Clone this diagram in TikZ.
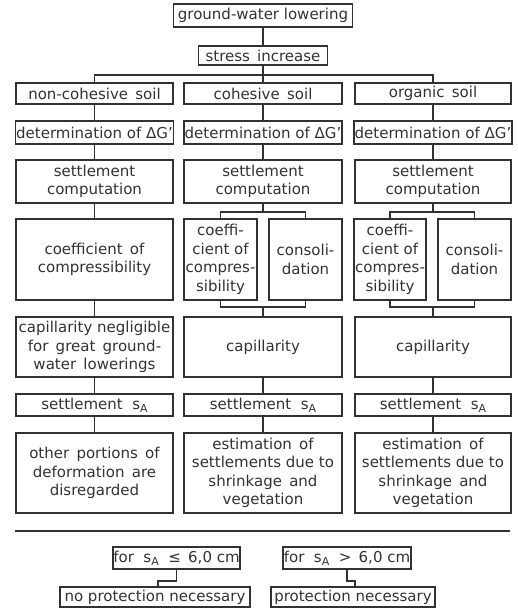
\documentclass[tikz,border=0pt]{standalone}
\usepackage{fontspec}
\setmainfont{DejaVu Sans}
\definecolor{ink}{RGB}{50,50,50}
\newcommand{\sA}{s\raisebox{-3pt}{\fontsize{11}{11}\selectfont A}}
\newcommand{\dG}{ΔG'}
\begin{document}
\begin{tikzpicture}[x=1pt,y=-1pt,
  box/.style={draw=ink, line width=1.4pt, inner sep=0.5pt, align=center,
    font=\fontsize{15}{18.5}\selectfont, text=ink},
  wh/.style 2 args={minimum width=#1pt, minimum height=#2pt},
  conn/.style={draw=ink, line width=1.4pt}]
\useasboundingbox (0,0) rectangle (517,610);
% top
\node[box, wh={179}{23}] (gw) at (263,15.5) {ground-water lowering};
\node[box, wh={129}{19}] (si) at (263,55.5) {stress \,increase};
% soil row
\node[box, wh={157}{21}] (s1) at (94.5,93.5) {non-cohesive \,soil};
\node[box, wh={158}{21}] (s2) at (263,93.5) {cohesive \,soil};
\node[box, wh={156}{21}] (s3) at (433,93.5) {organic \,soil};
% determination row
\node[box, wh={157}{23}] (d1) at (94.5,132.5) {determination of \dG};
\node[box, wh={158}{23}] (d2) at (263,132.5) {determination of \dG};
\node[box, wh={156}{23}] (d3) at (433,132.5) {determination of \dG};
% settlement computation
\node[box, wh={157}{43}] (sc1) at (94.5,181.5) {settlement\\computation};
\node[box, wh={158}{43}] (sc2) at (263,181.5) {settlement\\computation};
\node[box, wh={156}{43}] (sc3) at (433,181.5) {settlement\\computation};
% coefficient row
\node[box, wh={157}{81}] (cc1) at (94.5,259.5) {coefficient \,of\\compressibility};
\node[box, wh={73}{81}] (c2a) at (220.5,259.5) {coeffi-\\cient of\\compres-\\sibility};
\node[box, wh={73}{81}] (c2b) at (305.5,259.5) {consoli-\\dation};
\node[box, wh={72}{81}] (c3a) at (390,259.5) {coeffi-\\cient of\\compres-\\sibility};
\node[box, wh={73}{81}] (c3b) at (474.5,259.5) {consoli-\\dation};
% capillarity row
\node[box, wh={157}{60}] (cp1) at (94.5,347) {capillarity negligible\\for \,great \,ground-\\water \,lowerings};
\node[box, wh={158}{60}] (cp2) at (263,347) {capillarity};
\node[box, wh={156}{60}] (cp3) at (433,347) {capillarity};
% settlement sA row
\node[box, wh={157}{22}] (sa1) at (94.5,405) {settlement \ \sA};
\node[box, wh={158}{22}] (sa2) at (263,405) {settlement \ \sA};
\node[box, wh={156}{22}] (sa3) at (433,405) {settlement \ \sA};
% estimation row
\node[box, wh={157}{80}] (e1) at (94.5,473) {other \,portions \,of\\deformation \,are\\disregarded};
\node[box, wh={158}{80}] (e2) at (263,473) {estimation \,of\\settlements due to\\shrinkage \,and\\vegetation};
\node[box, wh={156}{80}] (e3) at (433,473) {estimation \,of\\settlements due to\\shrinkage \,and\\vegetation};
% separator
\draw[conn] (15,531) -- (510,531);
% bottom
\node[box, wh={125}{22}] (f1) at (176.5,558) {for \ \sA\ \ ≤ \,6,0 cm};
\node[box, wh={128}{22}] (f2) at (347,558) {for \ \sA\ \ > \,6,0 cm};
\node[box, wh={190}{20}] (p1) at (155,597) {no protection necessary};
\node[box, wh={164}{20}] (p2) at (353,597) {protection necessary};
% connectors
\coordinate (bus) at (263,75);
\draw[conn] (gw.south) -- (si.north);
\draw[conn] (si.south) -- (bus);
\draw[conn] (s1.north) |- (bus) -| (s3.north);
\draw[conn] (bus) -- (s2.north);
\foreach \i in {1,2,3}{
  \draw[conn] (s\i.south) -- (d\i.north);
  \draw[conn] (d\i.south) -- (sc\i.north);
  \draw[conn] (cp\i.south) -- (sa\i.north);
  \draw[conn] (sa\i.south) -- (e\i.north);
}
\draw[conn] (sc1.south) -- (cc1.north);
\draw[conn] (cc1.south) -- (cp1.north);
\coordinate (t2) at (263,212);
\coordinate (u2) at (263,307);
\draw[conn] (sc2.south) -- (t2);
\draw[conn] (c2a.north) |- (t2) -| (c2b.north);
\draw[conn] (c2a.south) |- (u2) -| (c2b.south);
\draw[conn] (u2) -- (cp2.north);
\coordinate (t3) at (433,212);
\coordinate (u3) at (433,307);
\draw[conn] (sc3.south) -- (t3);
\draw[conn] (c3a.north) |- (t3) -| (c3b.north);
\draw[conn] (c3a.south) |- (u3) -| (c3b.south);
\draw[conn] (u3) -- (cp3.north);
\coordinate (k1) at (176.5,581);
\coordinate (k2) at (347,581);
\draw[conn] (f1.south) -- (k1) -| ([xshift=3pt]p1.north);
\draw[conn] (f2.south) -- (k2) -| ([xshift=2pt]p2.north);
\end{tikzpicture}
\end{document}
